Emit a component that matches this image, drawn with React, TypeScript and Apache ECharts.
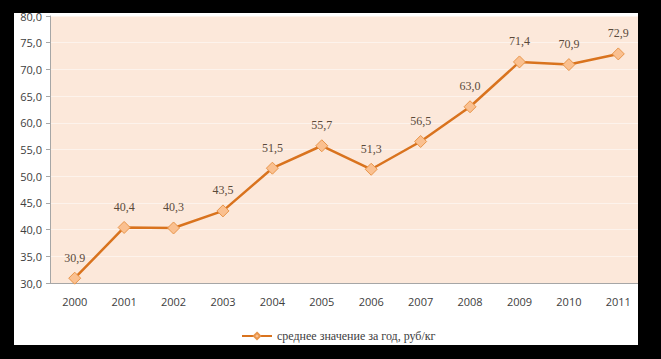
import React, { useEffect, useRef } from "react";
import * as echarts from "echarts";

const years = ["2000", "2001", "2002", "2003", "2004", "2005", "2006", "2007", "2008", "2009", "2010", "2011"];
const values = [30.9, 40.4, 40.3, 43.5, 51.5, 55.7, 51.3, 56.5, 63.0, 71.4, 70.9, 72.9];
const seriesName = "среднее значение за год, руб/кг";

export default function App() {
  const ref = useRef<HTMLDivElement>(null);
  useEffect(() => {
    if (!ref.current) return;
    const chart = echarts.init(ref.current, null, { renderer: "svg" });
    const fmt = (v: number) => v.toFixed(1).replace(".", ",");
    chart.setOption({
      animation: false,
      backgroundColor: "#000000",
      graphic: [
        { type: "rect", z: -10, shape: { x: 14, y: 13, width: 624, height: 332 }, style: { fill: "#ffffff" } },
        { type: "rect", z: 100, shape: { x: 638, y: 0, width: 23, height: 359 }, style: { fill: "#000000" } },
      ],
      grid: {
        left: 50,
        right: 18,
        top: 16,
        bottom: 76,
        show: true,
        backgroundColor: "#fce8da",
        borderWidth: 0,
      },
      legend: {
        bottom: 12,
        left: 236,
        itemWidth: 30,
        itemHeight: 8,
        itemGap: 4,
        textStyle: { fontFamily: "Liberation Serif", fontSize: 12, color: "#404040" },
        data: [{ name: seriesName }],
      },
      xAxis: {
        type: "category",
        data: years,
        boundaryGap: true,
        axisLine: { lineStyle: { color: "#a6a6a6" } },
        axisTick: { length: 3, lineStyle: { color: "#a6a6a6" } },
        axisLabel: { color: "#404040", fontFamily: "Open Sans", fontSize: 11, margin: 13 },
      },
      yAxis: {
        type: "value",
        min: 30,
        max: 80,
        interval: 5,
        axisLine: { show: true, lineStyle: { color: "#a6a6a6" } },
        axisTick: { show: true, length: 4, lineStyle: { color: "#a6a6a6" } },
        axisLabel: { color: "#404040", fontFamily: "Open Sans", fontSize: 11, margin: 8, formatter: (v: number) => fmt(v) },
        splitLine: { lineStyle: { color: "#fdf3ec", width: 1 } },
      },
      series: [
        {
          name: seriesName,
          type: "line",
          data: values,
          symbol: "diamond",
          symbolSize: 12,
          lineStyle: { color: "#d9731e", width: 2.5 },
          itemStyle: { color: "#fac090", borderColor: "#e8954a", borderWidth: 1 },
          label: {
            show: true,
            position: "top",
            distance: 8,
            color: "#5a4a3a",
            fontFamily: "Liberation Serif",
            fontSize: 12,
            formatter: (p: any) => fmt(p.value),
          },
        },
      ],
    });
    return () => chart.dispose();
  }, []);
  return <div ref={ref} style={{ width: 661, height: 359, position: "absolute", left: 0, top: 0 }} />;
}
